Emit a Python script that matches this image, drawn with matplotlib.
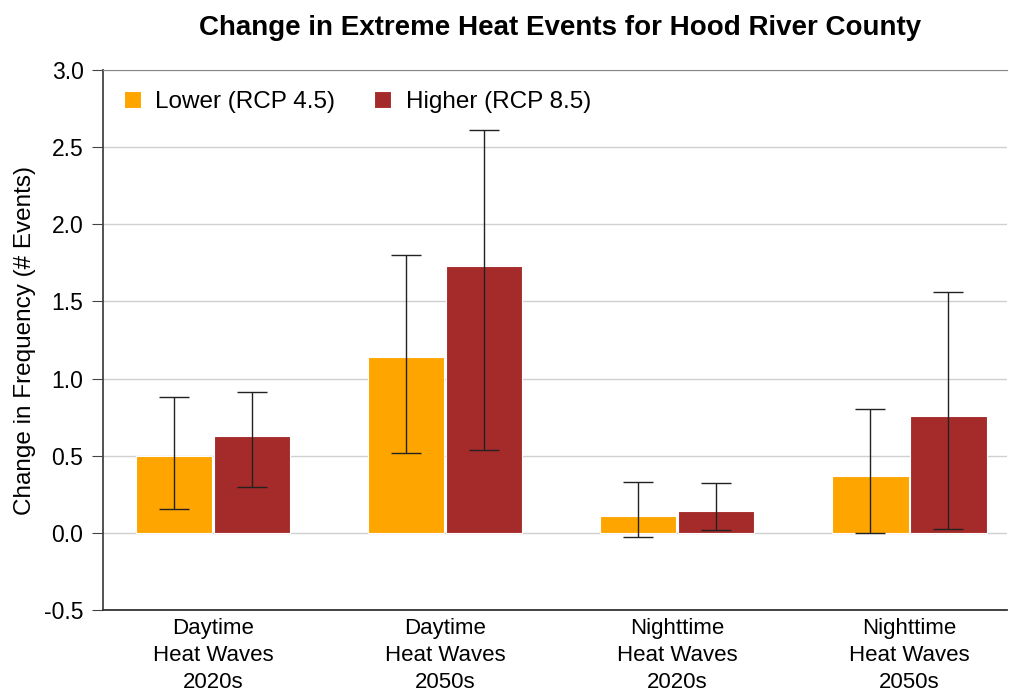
import matplotlib
matplotlib.use("Agg")
import matplotlib.pyplot as plt
import numpy as np

plt.rcParams['font.family'] = ['Liberation Sans', 'DejaVu Sans']

categories = ["Daytime\nHeat Waves\n2020s", "Daytime\nHeat Waves\n2050s",
              "Nighttime\nHeat Waves\n2020s", "Nighttime\nHeat Waves\n2050s"]
lower = [0.50, 1.14, 0.11, 0.37]
lower_lo = [0.155, 0.52, -0.025, 0.0]
lower_hi = [0.88, 1.80, 0.33, 0.80]
higher = [0.63, 1.73, 0.14, 0.76]
higher_lo = [0.30, 0.54, 0.02, 0.025]
higher_hi = [0.91, 2.61, 0.32, 1.56]

fig = plt.figure(figsize=(10.09, 6.92), dpi=100)
ax = fig.add_axes([0.102, 0.1185, 0.896, 0.7803])

x = np.arange(len(categories))
w = 0.328
off = 0.168

lo = np.array(lower)
hi = np.array(higher)
ax.bar(x - off, lower, w, color='#FFA500', edgecolor='white', linewidth=0.8,
       label='Lower (RCP 4.5)', zorder=2)
ax.bar(x + off, higher, w, color='#A52A2A', edgecolor='white', linewidth=0.8,
       label='Higher (RCP 8.5)', zorder=2)

# error bars
ax.errorbar(x - off, lower, yerr=[lo - np.array(lower_lo), np.array(lower_hi) - lo],
            fmt='none', ecolor='#222222', elinewidth=1, capsize=11, capthick=1, zorder=3)
ax.errorbar(x + off, higher, yerr=[hi - np.array(higher_lo), np.array(higher_hi) - hi],
            fmt='none', ecolor='#222222', elinewidth=1, capsize=11, capthick=1, zorder=3)

ax.set_ylim(-0.5, 3.0)
ax.set_xlim(-0.474, 3.42)
yt = np.arange(-0.5, 3.01, 0.5)
ax.set_yticks(yt)
ax.set_yticklabels([f"{v:.1f}" for v in yt])
ax.set_xticks(x)
ax.set_xticklabels(categories, fontsize=16, linespacing=1.35)
ax.tick_params(axis='x', length=0, pad=6)
ax.tick_params(axis='y', labelsize=16.5, length=8, color='#444444', pad=6)
ax.yaxis.grid(True, color='#d0d0d0', linewidth=1, zorder=0)
ax.set_axisbelow(True)

ax.spines['right'].set_visible(False)
ax.spines['left'].set_color('#444444')
ax.spines['bottom'].set_color('#333333')
ax.spines['top'].set_color('#888888')
ax.spines['left'].set_linewidth(1.3)
ax.spines['bottom'].set_linewidth(1.3)

ax.set_ylabel('Change in Frequency (# Events)', fontsize=17.5, labelpad=6)
fig.text(0.555, 0.96, 'Change in Extreme Heat Events for Hood River County',
         ha='center', va='center', fontsize=20, fontweight='bold')

ax.legend(loc='upper left', ncol=2, frameon=False, fontsize=17.5,
          handlelength=0.7, handleheight=0.7, columnspacing=1.6,
          handletextpad=0.6, borderaxespad=0.45, bbox_to_anchor=(0.0, 1.0))

fig.savefig('out.png', dpi=100)
